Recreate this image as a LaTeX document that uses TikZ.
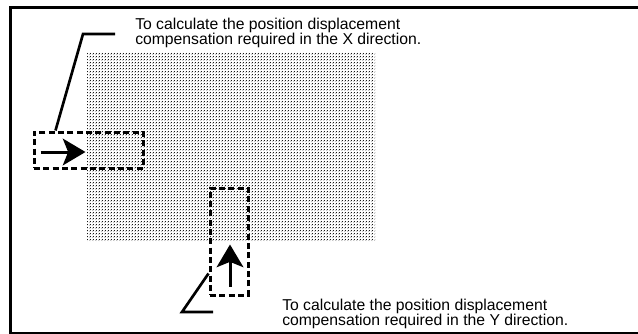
\documentclass[tikz,border=0pt]{standalone}
\usepackage{fontspec}
\setmainfont{Liberation Sans}
\usepackage{tikz}
\usetikzlibrary{
  arrows.meta,
  positioning,
  calc,
  patterns.meta
}
\tikzdeclarepattern{
  name=finedots,
  type=uncolored,
  bounding box={(0pt,0pt) and (2.5pt,2.5pt)},
  tile size={(2.5pt,2.5pt)},
  code={
    \fill (0pt,0pt) circle (0.55pt);
    \fill (1.25pt,1.25pt) circle (0.55pt);
  }
}
\tikzset{
  markbox/.style={draw,line width=2.25pt,dash pattern=on 4.5pt off 2.5pt,
    inner sep=0pt,rectangle},
  leader/.style={line width=2pt,line join=miter},
  shift arrow/.style={line width=2.25pt,-{Stealth[length=17pt,width=20pt,inset=4pt]}},
  note/.style={align=left,inner sep=0pt,anchor=north west,
    font=\fontsize{11.8}{11.2}\selectfont}
}

\begin{document}
\begin{tikzpicture}[x=0.75pt,y=-0.75pt]
  \useasboundingbox (0,0) rectangle (638,333);
  \draw[line width=2.25pt] (10,7) rectangle (641,333);

  \fill[pattern=finedots,pattern color=black] (87,52) rectangle (375,241);

  \node[markbox,minimum width=81.75pt,minimum height=27pt] (boxX) at (88.5,150) {};
  \node[markbox,minimum width=28.5pt,minimum height=80.25pt] (boxY) at (229,241.5) {};

  \draw[shift arrow] ($(boxX.west)+(8,2)$) -- ($(boxX.west)+(53,2)$);
  \draw[shift arrow] ($(boxY.south)+(1,-10)$) -- ($(boxY.south)+(1,-52)$);

  \node[note] (noteX) at (135,17.5) {To calculate the position displacement\\
    compensation required in the X direction.};
  \node[note] (noteY) at (282,298.5) {To calculate the position displacement\\
    compensation required in the Y direction.};

  \coordinate (kneeX) at (83,34);
  \coordinate (endX) at (115,34);
  \draw[leader] ($(boxX.north west)+(23,0)$) -- (kneeX) -- (endX);
  \coordinate (kneeY) at (182,312);
  \coordinate (endY) at (213,312);
  \draw[leader] ($(boxY.south west)+(0,-23)$) -- (kneeY) -- (endY);
\end{tikzpicture}
\end{document}
